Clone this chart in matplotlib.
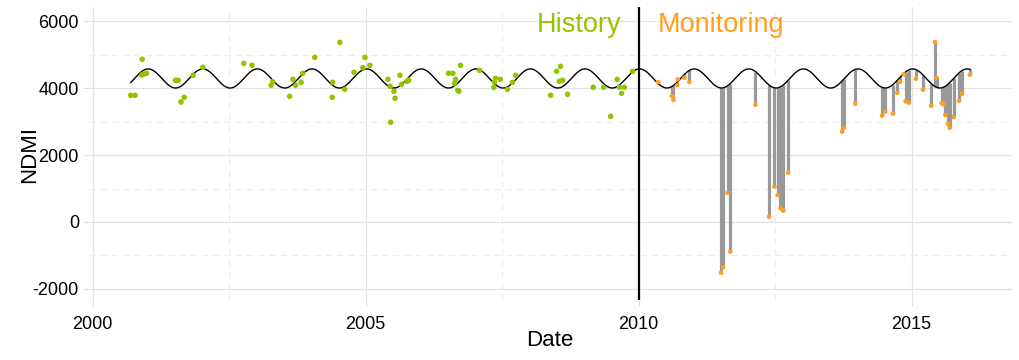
import numpy as np
import matplotlib
matplotlib.use("Agg")
import matplotlib.pyplot as plt

# ---- data ----
hist_time = [2000.70, 2000.78, 2000.91, 2000.90, 2000.94, 2000.99, 2001.52, 2001.57, 2001.62, 2001.68,
             2001.84, 2002.02, 2002.77, 2002.92, 2003.27, 2003.30, 2003.61, 2003.67, 2003.72, 2003.82,
             2003.85, 2004.07, 2004.39, 2004.40, 2004.53, 2004.62, 2004.79, 2004.95, 2004.99, 2005.08,
             2005.41, 2005.45, 2005.52, 2005.54, 2005.46, 2005.63, 2005.66, 2005.76, 2005.79, 2006.52,
             2006.60, 2006.65, 2006.63, 2006.69, 2006.71, 2006.74, 2007.09, 2007.35, 2007.38, 2007.36,
             2007.47, 2007.60, 2007.69, 2007.75, 2008.39, 2008.50, 2008.57, 2008.55, 2008.61, 2008.70,
             2009.17, 2009.36, 2009.61, 2009.49, 2009.65, 2009.69, 2009.74, 2009.89]
hist_ndmi = [3782, 3782, 4857, 4388, 4418, 4439, 4230, 4230, 3582, 3722,
             4379, 4618, 4737, 4678, 4081, 4188, 3752, 4260, 4081, 4170,
             4439, 4916, 3722, 4170, 5364, 3961, 4469, 4606, 4916, 4678,
             4260, 4051, 3901, 3693, 2976, 4379, 4110, 4200, 4230, 4439,
             4439, 4260, 4140, 3931, 3901, 4678, 4528, 4021, 4290, 4179,
             4260, 3961, 4170, 4379, 3782, 4499, 4648, 4200, 4230, 3812,
             4021, 4021, 4260, 3155, 4021, 3842, 4021, 4499]

mon_time = [2010.36, 2010.61, 2010.64, 2010.71, 2010.72, 2010.84, 2010.93, 2011.51, 2011.55, 2011.63,
            2011.68, 2012.14, 2012.39, 2012.49, 2012.55, 2012.60, 2012.65, 2012.74, 2013.73, 2013.76,
            2013.97, 2014.46, 2014.52, 2014.66, 2014.74, 2014.79, 2014.86, 2014.89, 2014.95, 2015.08,
            2015.21, 2015.36, 2015.43, 2015.46, 2015.55, 2015.58, 2015.62, 2015.67, 2015.70, 2015.77,
            2015.87, 2015.92, 2016.07]
mon_ndmi = [4179, 3761, 3642, 4081, 4260, 4307, 4179, -1513, -1352, 874,
            -886, 3502, 158, 1054, 806, 409, 338, 1472, 2696, 2815,
            3532, 3173, 3293, 3233, 3860, 4188, 4409, 3603, 3562, 4278,
            3950, 3472, 5373, 4298, 3552, 3522, 3194, 2925, 2815, 3134,
            3622, 3821, 4397]

# fitted harmonic model (intercept, amplitude, phase of peak in year fraction)
model_intercept = 4285
model_amplitude = 285
model_peak_phase = 0.02

monitor_start = 2010.0

x_ticks = [2000, 2005, 2010, 2015]
y_ticks = [-2000, 0, 2000, 4000, 6000]

GREEN = "#93C400"
ORANGE = "#FF9E1F"

def model(t):
    t = np.asarray(t, dtype=float)
    return model_intercept + model_amplitude * np.cos(2 * np.pi * (t - model_peak_phase))

plt.rcParams['font.family'] = ['Liberation Sans', 'DejaVu Sans']
plt.rcParams['axes.unicode_minus'] = False

fig = plt.figure(figsize=(10.2, 3.6), dpi=100)
W, H = 1020, 360
left_px, right_px, top_px, bot_px = 88.7, 1012.0, 7.3, 299.7
ax = fig.add_axes([left_px / W, 1 - bot_px / H, (right_px - left_px) / W, (bot_px - top_px) / H])

ax.set_xlim(1999.93, 2016.84)
ax.set_ylim(-2320, 6410)

# grid
ax.set_xticks(x_ticks)
ax.set_yticks(y_ticks)
ax.set_xticks([2002.5, 2007.5, 2012.5], minor=True)
ax.set_yticks([-1000, 1000, 3000, 5000], minor=True)
ax.grid(True, which='major', color='#E2E2E2', linewidth=0.9, zorder=0)
ax.grid(True, which='minor', color='#EDEDED', linewidth=0.9, linestyle=(0, (5, 4)), zorder=0)
ax.set_axisbelow(True)
for s in ax.spines.values():
    s.set_visible(False)
ax.tick_params(which='major', length=4, color='#DDDDDD', labelsize=13, labelcolor='black', pad=3)
ax.tick_params(axis='x', which='major', pad=8)
ax.tick_params(which='minor', length=0)

# model curve
t_all = sorted(hist_time + mon_time)
tc = np.linspace(min(t_all), max(t_all), 2000)
ax.plot(tc, model(tc), color='black', linewidth=1.0, zorder=3)

# residual segments in monitoring period
mt = np.array(mon_time)
mv = np.array(mon_ndmi)
ax.vlines(mt, model(mt), mv, color='#999999', linewidth=2.3, zorder=2)

# points
ax.scatter(hist_time, hist_ndmi, s=16, color=GREEN, edgecolors='none', zorder=4)
ax.scatter(mon_time, mon_ndmi, s=11, color=ORANGE, edgecolors='none', zorder=4)

# monitoring start line
ax.axvline(monitor_start, color='black', linewidth=1.6, zorder=5)

ax.text(monitor_start - 0.31, 5672, "History", color=GREEN, fontsize=19.5, ha='right', va='baseline')
ax.text(monitor_start + 0.36, 5672, "Monitoring", color=ORANGE, fontsize=19.5, ha='left', va='baseline')

ax.set_xlabel("Date", fontsize=16, va='center')
ax.xaxis.set_label_coords(0.4996, -0.138)
ax.set_ylabel("NDMI", fontsize=16, va='center')
ax.yaxis.set_label_coords(-0.0636, 0.495)

fig.savefig("out.png", dpi=100)
